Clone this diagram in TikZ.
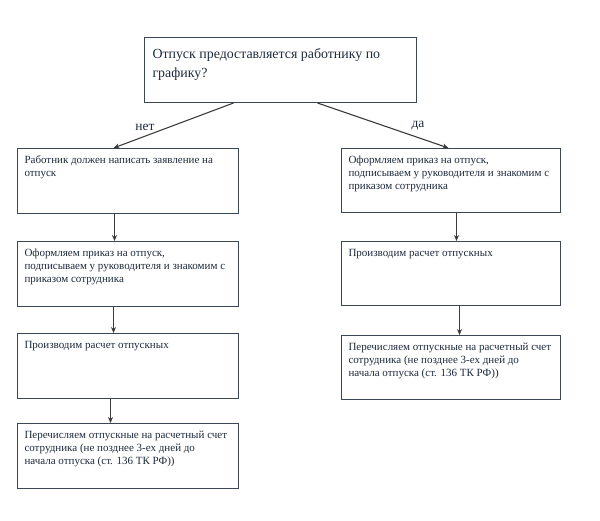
\documentclass[tikz,border=0pt]{standalone}
\usepackage{fontspec}
\setmainfont{Liberation Serif}
\usetikzlibrary{arrows.meta}
\definecolor{boxc}{HTML}{3B4656}
\definecolor{txtc}{HTML}{1E2A3C}
\definecolor{arrc}{HTML}{3A3A3A}
\newcommand{\bxt}[3]{\parbox[c][#1][t]{#2}{\raggedright #3}}
\begin{document}
\begin{tikzpicture}[x=1pt,y=-1pt,
  box/.style={draw=boxc, line width=1pt, anchor=north west, inner xsep=7pt, inner ysep=7.5pt,
    font=\fontsize{11}{13}\selectfont, text=txtc},
  arr/.style={draw=arrc, line width=1.1pt, -{Stealth[length=6pt,width=5pt]}},
  lbl/.style={font=\fontsize{13.5}{15}\selectfont, text=txtc}]
\path[use as bounding box] (0,0) rectangle (600,520);
\node[box, inner xsep=8pt, inner ysep=11.5pt, font=\fontsize{13.9}{19}\selectfont] (T) at (144,37)
  {\bxt{42pt}{256pt}{Отпуск предоставляется работнику по\\ графику?}};
\node[box] (L1) at (17,148) {\bxt{50pt}{207pt}{Работник должен написать заявление на\\ отпуск}};
\node[box] (L2) at (17,241) {\bxt{50pt}{207pt}{Оформляем приказ на отпуск,\\ подписываем у руководителя и знакомим с\\ приказом сотрудника}};
\node[box] (L3) at (17,333) {\bxt{50pt}{207pt}{Производим расчет отпускных}};
\node[box] (L4) at (17,423) {\bxt{50pt}{207pt}{Перечисляем отпускные на расчетный счет\\ сотрудника (не позднее 3-ех дней до\\ начала отпуска (ст. 136 ТК РФ))}};
\node[box] (R1) at (341,148) {\bxt{49pt}{205pt}{Оформляем приказ на отпуск,\\ подписываем у руководителя и знакомим с\\ приказом сотрудника}};
\node[box] (R2) at (341,241) {\bxt{49pt}{205pt}{Производим расчет отпускных}};
\node[box] (R3) at (341,335) {\bxt{49pt}{205pt}{Перечисляем отпускные на расчетный счет\\ сотрудника (не позднее 3-ех дней до\\ начала отпуска (ст. 136 ТК РФ))}};
\node[lbl] (no) at (145,127) {нет};
\node[lbl] (yes) at (418,126) {да};
\draw[arr] ([xshift=-47pt]T.south) -- ([xshift=-14.5pt]L1.north);
\draw[arr] ([xshift=37pt]T.south) -- ([xshift=-2.5pt]R1.north);
\draw[arr] ([xshift=-13.5pt]L1.south) -- ([xshift=-13.5pt]L2.north);
\draw[arr] ([xshift=-14.5pt]L2.south) -- ([xshift=-14.5pt]L3.north);
\draw[arr] ([xshift=-17.5pt]L3.south) -- ([xshift=-17.5pt]L4.north);
\draw[arr] ([xshift=5.5pt]R1.south) -- ([xshift=5.5pt]R2.north);
\draw[arr] ([xshift=8.5pt]R2.south) -- ([xshift=8.5pt]R3.north);
\end{tikzpicture}
\end{document}
